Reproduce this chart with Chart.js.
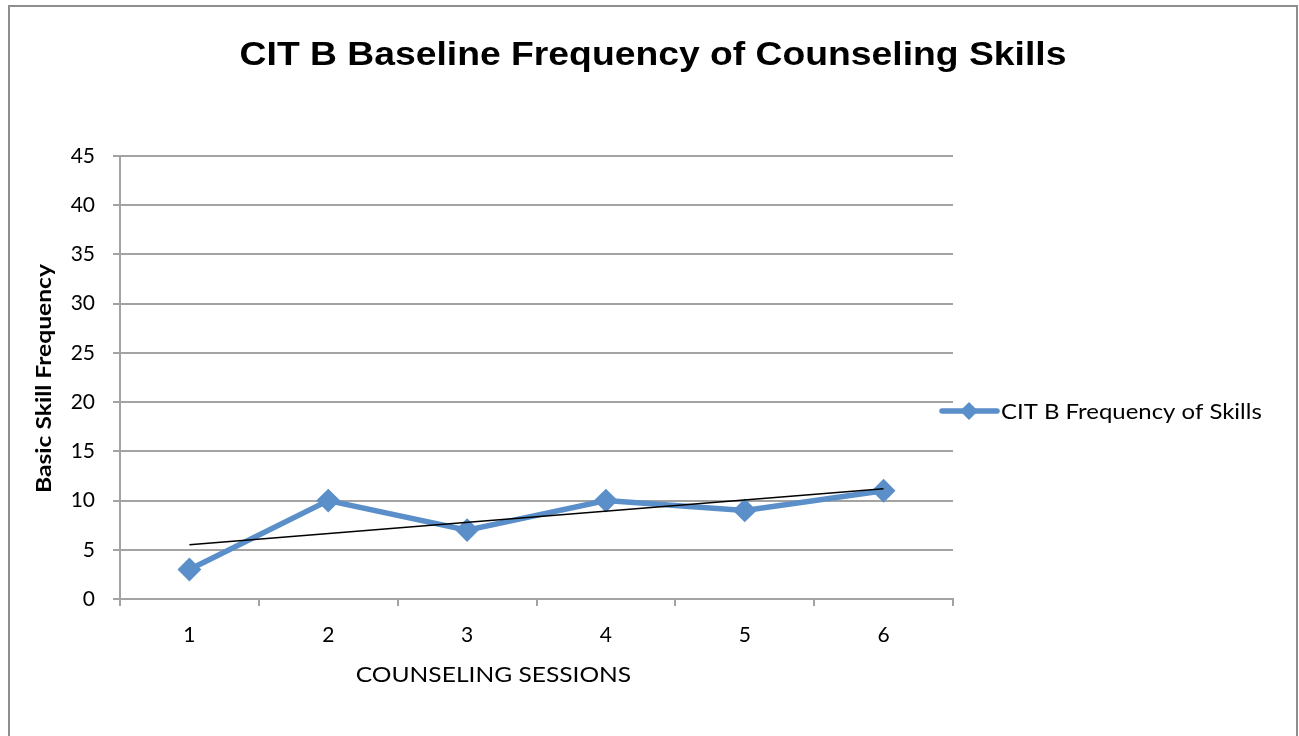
<!DOCTYPE html>
<html>
<head>
<meta charset="utf-8">
<script src="https://cdn.jsdelivr.net/npm/chart.js@4.4.1/dist/chart.umd.min.js"></script>
<style>
  html, body { margin: 0; padding: 0; background: #fff; }
  canvas { display: block; }
</style>
</head>
<body>
<canvas id="grafico" width="1299" height="736"></canvas>
<script>
// --- dados ---
const sessoes = ['1', '2', '3', '4', '5', '6'];
const frequencia = [3, 10, 7, 10, 9, 11];
const tendencia = [5.5, null, null, null, null, 11.2]; // linha de tendência (pontas)
const eixoYMin = 0;
const eixoYMax = 45;
const eixoYPasso = 5;

const tituloGrafico = 'CIT B Baseline Frequency of Counseling Skills';
const tituloX = 'COUNSELING SESSIONS';
const tituloY = 'Basic Skill Frequency';
const nomeSerie = 'CIT B Frequency of Skills';

// --- estilos ---
const AZUL = '#5b8fca';
const CINZA = '#a3a3a3';
const FONTE = 'Lato, "Open Sans", sans-serif';

// texto alargado na direção da escrita
function textoLargo(ctx, texto, x, y, fator, angulo, align) {
    ctx.save();
    ctx.translate(x, y);
    if (angulo) ctx.rotate(angulo);
    ctx.scale(fator, 1);
    ctx.textAlign = align || 'center';
    ctx.textBaseline = 'middle';
    ctx.fillText(texto, 0, 0);
    ctx.restore();
}

// moldura, títulos e legenda
const extras = {
    id: 'extras',
    beforeDraw(chart) {
        const ctx = chart.ctx;
        ctx.save();
        ctx.fillStyle = '#fff';
        ctx.fillRect(0, 0, chart.width, chart.height);
        ctx.strokeStyle = '#8e8e8e';
        ctx.lineWidth = 2;
        ctx.beginPath();
        ctx.moveTo(9, chart.height);
        ctx.lineTo(9, 6);
        ctx.lineTo(1297, 6);
        ctx.lineTo(1297, chart.height);
        ctx.stroke();
        ctx.restore();
    },
    afterDraw(chart) {
        const ctx = chart.ctx;
        const a = chart.chartArea;
        ctx.save();
        ctx.fillStyle = '#000';

        ctx.font = 'bold 33px "Liberation Sans", Arial, sans-serif';
        textoLargo(ctx, tituloGrafico, 653, 56, 1.13);

        ctx.font = '21px ' + FONTE;
        textoLargo(ctx, tituloX, (a.left + a.right) / 2 - 43, a.bottom + 76, 1.17);

        ctx.font = 'bold 20px ' + FONTE;
        textoLargo(ctx, tituloY, 45, (a.top + a.bottom) / 2 + 1, 1.23, -Math.PI / 2);

        // legenda: linha com losango
        const ly = 411;
        const lx = a.right - 11;
        ctx.strokeStyle = AZUL;
        ctx.lineWidth = 5.5;
        ctx.lineCap = 'round';
        ctx.beginPath();
        ctx.moveTo(lx, ly);
        ctx.lineTo(lx + 55, ly);
        ctx.stroke();
        const cx = lx + 27, r = 9;
        ctx.fillStyle = AZUL;
        ctx.beginPath();
        ctx.moveTo(cx - r, ly);
        ctx.lineTo(cx, ly - r);
        ctx.lineTo(cx + r, ly);
        ctx.lineTo(cx, ly + r);
        ctx.closePath();
        ctx.fill();

        ctx.fillStyle = '#000';
        ctx.font = '21px ' + FONTE;
        textoLargo(ctx, nomeSerie, lx + 59, ly + 1, 1.14, 0, 'left');
        ctx.restore();
    }
};

const chart = new Chart(document.getElementById('grafico').getContext('2d'), {
    type: 'line',
    data: {
        labels: sessoes,
        datasets: [
            {
                label: 'Tendência',
                data: tendencia,
                borderColor: '#000',
                borderWidth: 1.5,
                pointRadius: 0,
                spanGaps: true,
                tension: 0,
                order: 0
            },
            {
                label: nomeSerie,
                data: frequencia,
                borderColor: AZUL,
                backgroundColor: AZUL,
                borderWidth: 5.5,
                pointStyle: 'rectRot',
                pointRadius: 10.5,
                pointBorderWidth: 2,
                pointBorderColor: AZUL,
                pointBackgroundColor: AZUL,
                tension: 0,
                order: 1
            }
        ]
    },
    options: {
        responsive: false,
        devicePixelRatio: 1,
        animation: false,
        layout: { padding: { left: 10, top: 156, right: 346, bottom: 77 } },
        plugins: {
            legend: { display: false },
            title: { display: false },
            tooltip: { enabled: false }
        },
        scales: {
            x: {
                offset: true,
                afterFit(s) { s.height = 60; },
                grid: {
                    offset: true,
                    drawOnChartArea: false,
                    drawTicks: true,
                    tickLength: 7,
                    color: CINZA,
                    lineWidth: 2
                },
                border: { color: CINZA, width: 2 },
                ticks: {
                    color: '#000',
                    padding: 17,
                    font: { family: FONTE, size: 21 },
                    maxRotation: 0
                }
            },
            y: {
                min: eixoYMin,
                max: eixoYMax,
                afterFit(s) { s.width = 110; },
                grid: { color: CINZA, lineWidth: 2, tickLength: 7 },
                border: { color: CINZA, width: 2 },
                ticks: {
                    stepSize: eixoYPasso,
                    color: '#000',
                    padding: 18,
                    font: { family: FONTE, size: 21 }
                }
            }
        }
    },
    plugins: [extras]
});
</script>
</body>
</html>
